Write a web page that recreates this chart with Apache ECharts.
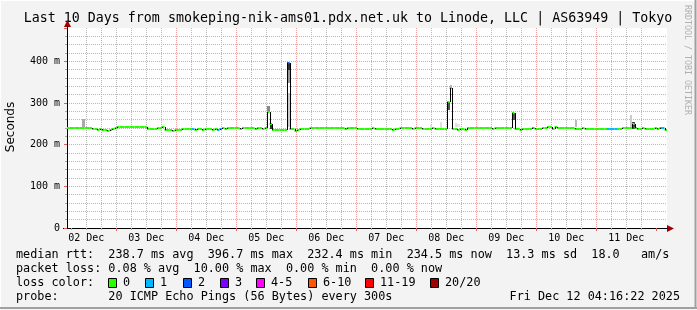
<!DOCTYPE html>
<html><head><meta charset="utf-8">
<script src="https://cdn.jsdelivr.net/npm/echarts@6/dist/echarts.min.js"></script>
<style>html,body{margin:0;padding:0;background:#f3f3f3;}#c{width:697px;height:310px;}</style>
</head><body><div id="c"></div>
<script>
// ---------- data ----------
const titleText = 'Last 10 Days from smokeping-nik-ams01.pdx.net.uk to Linode, LLC | AS63949 | Tokyo';
const startHour = 4.27;      // Dec 2 04:16 (hours since Dec 2 00:00)
const endHour = 244.27;      // Dec 12 04:16
const sampleHours = 1;       // one median sample per hour
// median RTT (ms), one value per hour from start
const median = [
  241,241,241,241,241,241,241,241,241,241, 237,237,236,237, 235,235,234,235, 238,240, 243,243,243,243,
  243,243,243,243,243,243,243,243, 237,237,238,237,240,239, 243, 235,235,235,234,235,235,235, 238,238,
  238,238, 237, 236,238,237,236,237,238,237,236,238, 236,237, 239,238,239,239,240,239,239,238,239,239,
  240,240,239,238,239,239,238,239, 279, 250, 236,235,236,236,235,236, 397, 237, 237,232,235, 238,238,238,
  238,239, 240,240,241,240,240,239,240,240, 239,239,240,239,239,238,239,239,240,239, 238,238,238,237,
  238,238,239,238,238,237,238,238, 237,237,236,237,237, 239,239,240,239,239,238,239,239,239, 238,238,
  238,238,239,238, 237,237,237,238, 302, 336, 237,237,236,237,237, 235, 240,240,240,240, 239,239,239,239,
  239,239,238,239,239,239,240,239,239,239, 275, 238, 238,236,238,238,238,238, 239, 237,237,237, 240,240,
  242,242, 237, 243, 239,239,239,239, 240,240,240, 238,238,238,239,238,238,238, 237,237,237,238,237,237,
  238,238,238,238, 237,237, 240,240,240,240, 250, 240, 238,237,239,238,238,237,238,239,238, 239,239, 235
];
// samples with packet loss (index into median) and lost pings out of 20
const lossIdx = [50, 60, 61, 88, 186, 216, 217, 218, 219, 237, 238];
const lossVal = [1, 1, 1, 2, 1, 1, 1, 1, 1, 1, 1];
// smoke (ping spread) at selected samples
const smokeIdx   = [6,   80,  81,  88,  88,  88,  145, 149, 152, 153, 155, 156, 178, 203, 225, 226];
const smokeLow   = [242, 279, 238, 243, 347, 379, 240, 240, 283, 336, 242, 242, 259, 242, 242, 238];
const smokeHigh  = [262, 294, 250, 323, 379, 395, 247, 255, 302, 343, 252, 250, 275, 259, 271, 254];
const smokeShade = ['#aaaaaa','#888888','#333333','#cccccc','#999999','#333333','#dddddd','#dddddd',
                    '#555555','#bbbbbb','#dddddd','#e5e5e5','#555555','#bbbbbb','#cccccc','#444444'];
// axes
const xLabelHours = [12, 36, 60, 84, 108, 132, 156, 180, 204, 228];
const xLabels = ['02 Dec','03 Dec','04 Dec','05 Dec','06 Dec','07 Dec','08 Dec','09 Dec','10 Dec','11 Dec'];
const dayHours = [24, 48, 72, 96, 120, 144, 168, 192, 216, 240];
const yTicks = [0, 100, 200, 300, 400];
const yTickLabels = ['0', '100 m', '200 m', '300 m', '400 m'];
const yMax = 480;
// legend / stats text
const statsMedian = 'median rtt:  238.7 ms avg  396.7 ms max  232.4 ms min  234.5 ms now  13.3 ms sd  18.0   am/s';
const statsLoss = 'packet loss: 0.08 % avg  10.00 % max  0.00 % min  0.00 % now';
const lossLabel = 'loss color:';
const lossLegend = ['0', '1', '2', '3', '4-5', '6-10', '11-19', '20/20'];
const lossColors = ['#26ff00', '#00b8ff', '#0059ff', '#7e00ff', '#ff00ff', '#ff5500', '#ff0000', '#a00000'];
const probeText = 'probe:       20 ICMP Echo Pings (56 Bytes) every 300s';
const dateText = 'Fri Dec 12 04:16:22 2025';
const watermark = 'RRDTOOL / TOBI OETIKER';
const yName = 'Seconds';

// ---------- build ----------
const minorHours = [];
for (let h = 6; h <= 240; h += 6) minorHours.push(h);
function lossColorIndex(n) {
  if (n <= 3) return n;
  if (n <= 5) return 4;
  if (n <= 10) return 5;
  if (n <= 19) return 6;
  return 7;
}
const lossArr = median.map(() => 0);
lossIdx.forEach((idx, k) => { lossArr[idx] = lossVal[k]; });
const medianData = median.map((v, i) => [startHour + i * sampleHours, v, lossColorIndex(lossArr[i]), i > 0 ? median[i - 1] : v]);
const smokeData = smokeIdx.map((idx, k) => [startHour + idx * sampleHours, smokeLow[k], smokeHigh[k]]);

const GL = 67, GT = 28, GR = 667, GB = 228;
const mono = '"DejaVu Sans Mono", monospace';
const chart = echarts.init(document.getElementById('c'), null, {renderer: 'canvas'});

const graphics = [];
// frame
graphics.push({type: 'line', shape: {x1: 0, y1: 0.5, x2: 697, y2: 0.5}, style: {stroke: '#ffffff', lineWidth: 1}});
graphics.push({type: 'line', shape: {x1: 0.5, y1: 0, x2: 0.5, y2: 310}, style: {stroke: '#ffffff', lineWidth: 1}});
graphics.push({type: 'line', shape: {x1: 695.5, y1: 0, x2: 695.5, y2: 309}, style: {stroke: '#a0a0a0', lineWidth: 2}});
graphics.push({type: 'line', shape: {x1: 0, y1: 308, x2: 697, y2: 308}, style: {stroke: '#a0a0a0', lineWidth: 2}});
// title
graphics.push({type: 'text', x: 348, y: 19, style: {text: titleText, font: '13.3px ' + mono, fill: '#000', align: 'center', verticalAlign: 'middle'}});
// watermark
graphics.push({type: 'text', x: 687, y: 60, rotation: -Math.PI / 2, style: {text: watermark, font: '8.3px ' + mono, fill: '#b0b0b0', align: 'center', verticalAlign: 'middle'}});
// y axis name
graphics.push({type: 'text', x: 11, y: 127, rotation: Math.PI / 2, style: {text: yName, font: '12px "DejaVu Sans", sans-serif', fill: '#000', align: 'center', verticalAlign: 'middle'}});
// axis arrows
graphics.push({type: 'polygon', shape: {points: [[GR + 7, GB + 0.5], [GR, GB - 3], [GR, GB + 4]]}, style: {fill: '#a00000'}});
graphics.push({type: 'polygon', shape: {points: [[GL + 0.5, GT - 8], [GL - 3, GT - 1], [GL + 4, GT - 1]]}, style: {fill: '#a00000'}});
graphics.push({type: 'line', shape: {x1: GL + 0.5, y1: GT - 2, x2: GL + 0.5, y2: GT}, style: {stroke: '#000', lineWidth: 1}});
graphics.push({type: 'line', shape: {x1: GL - 4, y1: GB + 0.5, x2: GL, y2: GB + 0.5}, style: {stroke: '#000', lineWidth: 1}});
// stats text
const rowY = [255, 269, 283, 297];
const legFont = '11.8px ' + mono;
graphics.push({type: 'text', x: 16, y: rowY[0], style: {text: statsMedian, font: legFont, fill: '#000', verticalAlign: 'middle'}});
graphics.push({type: 'text', x: 16, y: rowY[1], style: {text: statsLoss, font: legFont, fill: '#000', verticalAlign: 'middle'}});
graphics.push({type: 'text', x: 16, y: rowY[2], style: {text: lossLabel, font: legFont, fill: '#000', verticalAlign: 'middle'}});
graphics.push({type: 'text', x: 16, y: rowY[3], style: {text: probeText, font: legFont, fill: '#000', verticalAlign: 'middle'}});
graphics.push({type: 'text', x: 680, y: rowY[3], style: {text: dateText, font: legFont, fill: '#000', align: 'right', verticalAlign: 'middle'}});
const boxX = [108, 145, 183, 220, 256, 308, 365, 430];
lossLegend.forEach((lab, k) => {
  graphics.push({type: 'rect', shape: {x: boxX[k] + 0.5, y: rowY[2] - 4.5, width: 8, height: 9}, style: {fill: lossColors[k], stroke: '#000', lineWidth: 1}});
  graphics.push({type: 'text', x: boxX[k] + 15, y: rowY[2], style: {text: lab, font: legFont, fill: '#000', verticalAlign: 'middle'}});
});

const minorColor = '#b8b8b8';
const majorColor = '#eea0a0';

chart.setOption({
  animation: false,
  backgroundColor: '#f3f3f3',
  grid: {left: GL, top: GT, width: GR - GL, height: GB - GT, show: true, backgroundColor: '#ffffff', borderWidth: 0},
  xAxis: [{
    type: 'value', min: startHour, max: endHour, position: 'bottom',
    axisLine: {show: true, lineStyle: {color: '#000', width: 1}},
    axisTick: {show: true, length: 2, inside: false, customValues: minorHours, lineStyle: {color: '#aaaaaa'}},
    splitLine: {show: true, showMinLine: false, showMaxLine: false, lineStyle: {color: minorColor, type: [1, 1], width: 1}},
    axisLabel: {show: true, customValues: xLabelHours, margin: 5, color: '#000', fontFamily: '"DejaVu Sans Mono", monospace', fontSize: 10,
      formatter: (v) => { const k = xLabelHours.indexOf(Math.round(v)); return k >= 0 ? xLabels[k] : ''; }}
  }, {
    type: 'value', min: startHour, max: endHour, position: 'bottom',
    axisLine: {show: false},
    axisTick: {show: true, length: 3, customValues: dayHours, lineStyle: {color: '#e06060'}},
    splitLine: {show: true, showMinLine: false, showMaxLine: false, lineStyle: {color: majorColor, type: [1, 1], width: 1}},
    axisLabel: {show: false}
  }],
  yAxis: [{
    type: 'value', min: 0, max: yMax, interval: 20, position: 'left',
    axisLine: {show: true, lineStyle: {color: '#000', width: 1}},
    axisTick: {show: true, length: 2, lineStyle: {color: '#aaaaaa'}},
    splitLine: {show: true, showMinLine: false, showMaxLine: false, lineStyle: {color: minorColor, type: [1, 1], width: 1}},
    axisLabel: {show: true, customValues: yTicks, margin: 7, color: '#000', fontFamily: '"DejaVu Sans Mono", monospace', fontSize: 10,
      formatter: (v) => { const k = yTicks.indexOf(Math.round(v)); return k >= 0 ? yTickLabels[k] : ''; }}
  }, {
    type: 'value', min: 0, max: yMax, interval: 100, position: 'left',
    axisLine: {show: false},
    axisTick: {show: true, length: 3, lineStyle: {color: '#e06060'}},
    splitLine: {show: true, showMinLine: false, showMaxLine: false, lineStyle: {color: majorColor, type: [1, 1], width: 1}},
    axisLabel: {show: false}
  }],
  series: [{
    type: 'custom', name: 'smoke', xAxisIndex: 0, yAxisIndex: 0, clip: true, z: 2,
    encode: {x: 0, y: [1, 2]},
    data: smokeData,
    renderItem: (params, api) => {
      const x = api.value(0);
      const a = api.coord([x, api.value(2)]);
      const b = api.coord([x + sampleHours, api.value(1)]);
      return {type: 'rect', shape: {x: Math.round(a[0]), y: Math.round(a[1]), width: Math.max(1, Math.round(b[0]) - Math.round(a[0])), height: Math.max(1, Math.round(b[1]) - Math.round(a[1]))},
        style: {fill: smokeShade[params.dataIndex]}};
    }
  }, {
    type: 'custom', name: 'median', xAxisIndex: 0, yAxisIndex: 0, clip: true, z: 3,
    encode: {x: 0, y: 1},
    data: medianData,
    renderItem: (params, api) => {
      const x = api.value(0), v = api.value(1), ci = api.value(2), prev = api.value(3);
      const a = api.coord([x, v]);
      const b = api.coord([x + sampleHours, v]);
      const yy = Math.round(a[1]);
      const children = [];
      children.push({type: 'line', shape: {x1: a[0], y1: yy, x2: b[0], y2: yy}, style: {stroke: lossColors[ci], lineWidth: 2}});
      if (prev !== v) {
        const p = api.coord([x, prev]);
        const xx = Math.round(a[0]) + 0.5;
        children.push({type: 'line', shape: {x1: xx, y1: Math.round(p[1]), x2: xx, y2: yy}, style: {stroke: '#000', lineWidth: 1}});
      }
      return {type: 'group', children};
    }
  }],
  graphic: {elements: graphics}
});
</script></body></html>
